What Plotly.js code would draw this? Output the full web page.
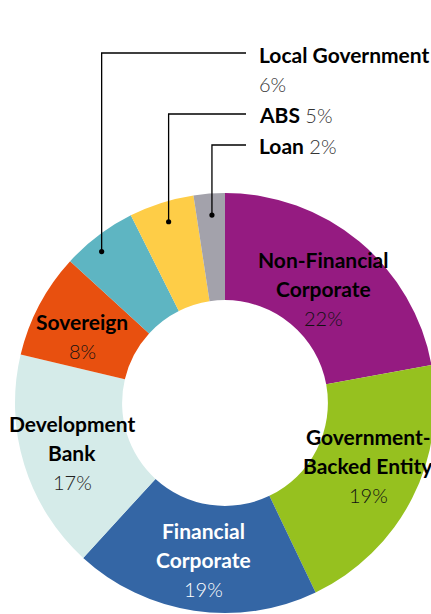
<!DOCTYPE html>
<html>
<head>
<meta charset="utf-8">
<script src="https://cdn.plot.ly/plotly-3.0.1.min.js"></script>
<style>
  html, body { margin: 0; padding: 0; background: #fff; overflow: hidden; width: 431px; height: 614px; }
  #chart { position: absolute; left: 0; top: 0; width: 450px; height: 640px; }
</style>
</head>
<body>
<div id="chart"></div>
<script>
// ---- data ----
const categories = ['Non-Financial<br>Corporate', 'Government-<br>Backed Entity', 'Financial<br>Corporate', 'Development<br>Bank', 'Sovereign', 'Local Government', 'ABS', 'Loan'];
const shares = [22.1, 20.8, 18.9, 16.9, 8.1, 5.8, 5.0, 2.4];
const pctLabels = ['22%', '19%', '19%', '17%', '8%', '6%', '5%', '2%'];

// ---- styles ----
const colors = ['#951B81', '#96C11F', '#3466A5', '#D5EBE9', '#E8500F', '#5EB5C2', '#FECD47', '#A3A2AB'];
const nameColors = ['#000', '#000', '#fff', '#000', '#000', '#000', '#000', '#000'];
const pctColors = ['#111', '#111', '#fff', '#222', '#111', '#333', '#333', '#333'];

const W = 450, H = 640;
const M = {l: 15, r: 15, t: 193, b: 27};
const PW = W - M.l - M.r, PH = H - M.t - M.b;
const px = x => (x - M.l) / PW;
const py = y => 1 - (y - M.t) / PH;

const FONT = 'Lato, "Noto Sans", sans-serif';
const FS = 21;
const FSP = 20;
const LINE = 29.5;

// inside label anchors (pixel centre of first line)
const insidePos = {0: [323, 259], 1: [368, 436], 2: [203, 530], 3: [72, 423], 4: [82, 321]};
// outside labels: [text x, text y, elbow y, dot angular fraction within slice, dot radius fraction]
const outsidePos = {5: [257, 54, 53, 0.40, 0.93], 6: [257, 114, 114, 0.52, 0.904], 7: [257, 145, 145, 0.54, 0.897]};
const lineEndX = 246;

const annotations = [];
const shapes = [];

Object.keys(insidePos).forEach(k => {
  const i = +k;
  const [cx, cy] = insidePos[i];
  const lines = categories[i].split('<br>');
  lines.forEach((ln, j) => {
    annotations.push({xref: 'paper', yref: 'paper', x: px(cx), y: py(cy + j * LINE),
      text: ln, showarrow: false, xanchor: 'center', yanchor: 'middle',
      font: {family: FONT, size: FS, color: nameColors[i], weight: 'bold'}});
  });
  annotations.push({xref: 'paper', yref: 'paper', x: px(cx), y: py(cy + lines.length * LINE),
    text: pctLabels[i], showarrow: false, xanchor: 'center', yanchor: 'middle',
    font: {family: FONT, size: FSP, color: pctColors[i], weight: 300}});
});

// cumulative starts for leader dots
const total = shares.reduce((a, b) => a + b, 0);
let cum = 0;
const starts = shares.map(v => { const s = cum; cum += v; return s; });

Object.keys(outsidePos).forEach(k => {
  const i = +k;
  const [tx, ty, ey, frac, rf] = outsidePos[i];
  const ang = (starts[i] + frac * shares[i]) / total * 2 * Math.PI;
  const dx = 0.5 + 0.5 * rf * Math.sin(ang);
  const dy = 0.5 + 0.5 * rf * Math.cos(ang);
  shapes.push({type: 'path', xref: 'paper', yref: 'paper',
    path: `M ${dx} ${dy} L ${dx} ${py(ey)} L ${px(lineEndX)} ${py(ey)}`,
    line: {color: '#000', width: 1.3}});
  const rr = 2.6 / PW;
  shapes.push({type: 'circle', xref: 'paper', yref: 'paper',
    x0: dx - rr, x1: dx + rr, y0: dy - rr, y1: dy + rr,
    fillcolor: '#000', line: {width: 0}});
  if (i === 5) {
    annotations.push({xref: 'paper', yref: 'paper', x: px(tx), y: py(ty),
      text: categories[i], showarrow: false, xanchor: 'left', yanchor: 'middle',
      font: {family: FONT, size: FS, color: '#000', weight: 'bold'}});
    annotations.push({xref: 'paper', yref: 'paper', x: px(tx), y: py(ty + 30),
      text: pctLabels[i], showarrow: false, xanchor: 'left', yanchor: 'middle',
      font: {family: FONT, size: FSP, color: pctColors[i], weight: 300}});
  } else {
    annotations.push({xref: 'paper', yref: 'paper', x: px(tx), y: py(ty),
      text: `<span style="font-weight:bold;color:#000;font-size:${FS}px">${categories[i]}</span> ${pctLabels[i]}`,
      showarrow: false, xanchor: 'left', yanchor: 'middle',
      font: {family: FONT, size: FSP, color: pctColors[i], weight: 300}});
  }
});

const trace = {
  type: 'pie',
  labels: categories,
  values: shares,
  sort: false,
  direction: 'clockwise',
  rotation: 0,
  hole: 0.49,
  textinfo: 'none',
  hoverinfo: 'none',
  marker: {colors: colors, line: {width: 0}},
  showlegend: false
};

Plotly.newPlot('chart', [trace], {
  width: W, height: H,
  margin: M,
  paper_bgcolor: '#fff',
  showlegend: false,
  annotations: annotations,
  shapes: shapes
}, {staticPlot: true});
</script>
</body>
</html>
